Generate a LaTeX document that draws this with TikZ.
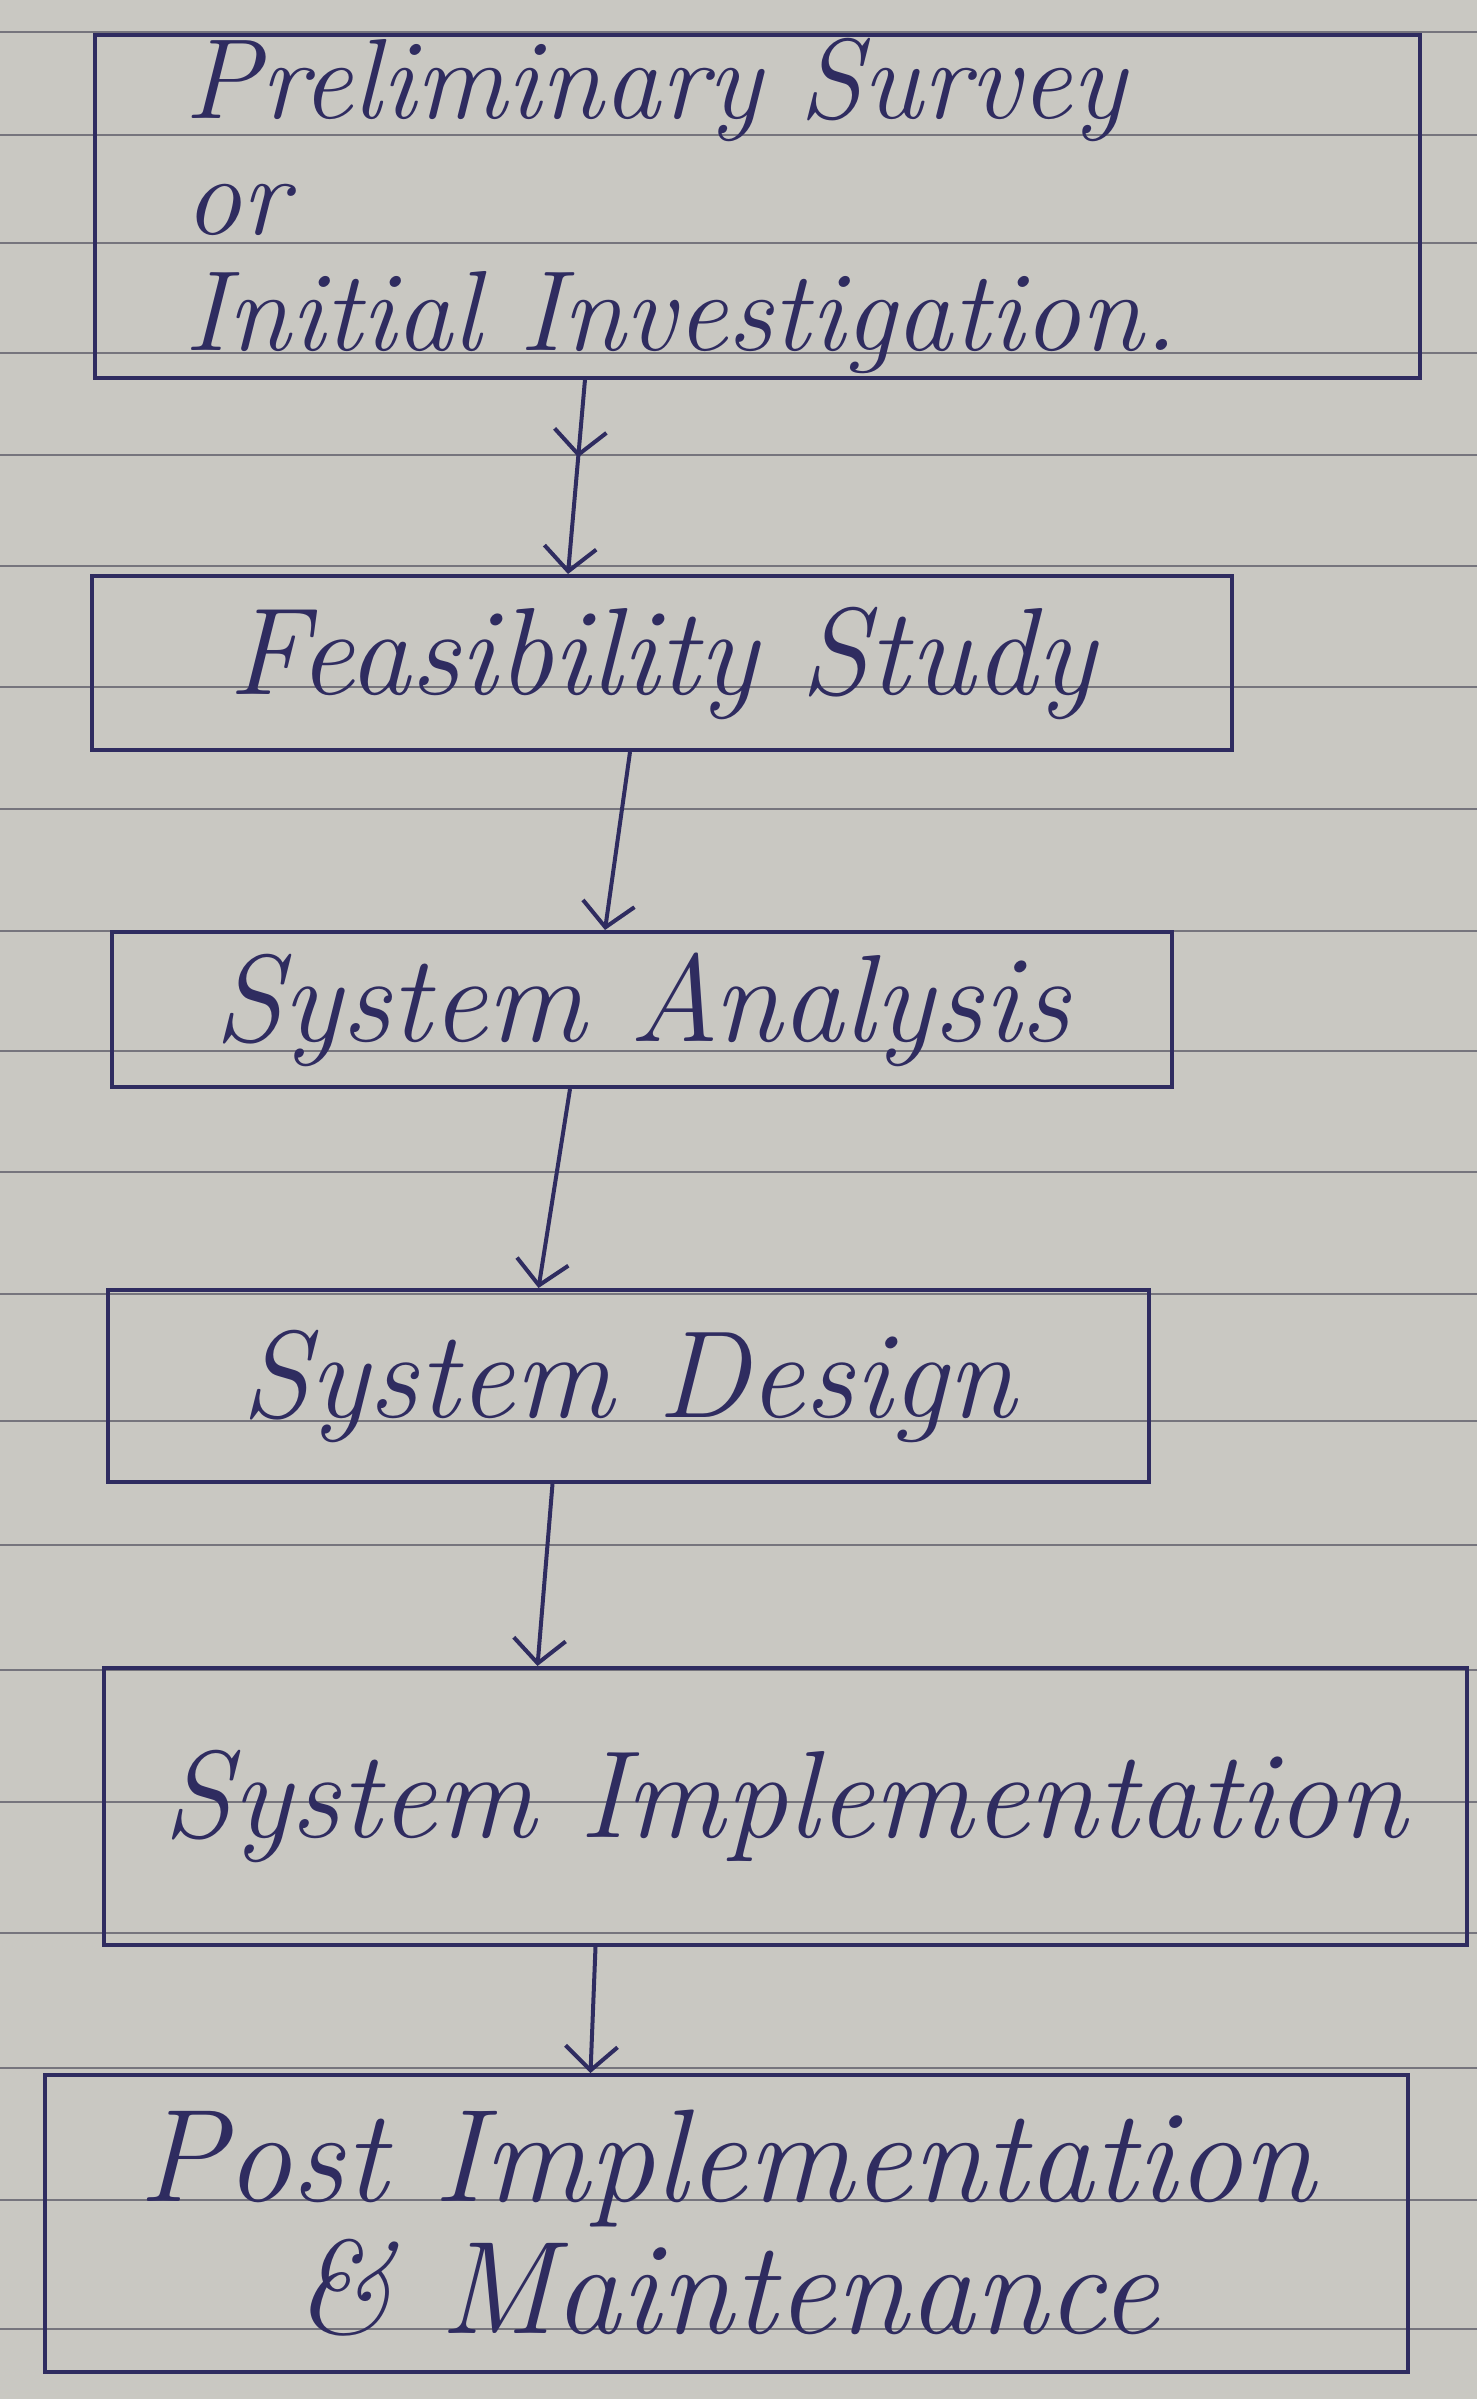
\documentclass[tikz,border=0pt]{standalone}
\usepackage{fontspec}
\usetikzlibrary{arrows.meta,decorations.markings}
\definecolor{paper}{HTML}{C9C8C2}
\definecolor{rule}{HTML}{76757D}
\definecolor{ink}{HTML}{2F2C60}
\tikzset{
  box/.style={draw=ink, line width=2pt, rectangle, inner sep=0pt, text=ink,
    font=\itshape\fontsize{62}{54}\selectfont},
  flow/.style={draw=ink, line width=2pt, -{Straight Barb[length=12pt,width=26pt,line width=2pt]}},
  ruled/.style={draw=rule, line width=1.3pt}
}
\begin{document}
\begin{tikzpicture}[x=0.5pt,y=-0.5pt]
\fill[paper] (0,0) rectangle (1477,2399);
\useasboundingbox (0,0) rectangle (1477,2399);
\foreach \yy in {32,135,243,353,455,566,687,809,931,1051,1172,1294,1421,1545,1670,1802,1933,2068,2200,2329}
  \draw[ruled] (0,\yy) -- (1477,\yy);

\node[box, minimum width=662.5pt, minimum height=171.5pt, inner xsep=45pt,
  text width=572.5pt, align=left, font=\itshape\fontsize{57}{58}\selectfont] (b1) at (757,206)
  {Preliminary Survey\\or\\Initial Investigation.};
\node[box, minimum width=570pt, minimum height=87pt] (b2) at (662,663) {Feasibility Study};
\node[box, minimum width=530pt, minimum height=77.5pt] (b3) at (642,1009.5) {System Analysis};
\node[box, minimum width=520.5pt, minimum height=96pt] (b4) at (628.5,1386) {System Design};
\node[box, minimum width=681.5pt, minimum height=138.5pt] (b5) at (785.5,1806.5) {System Implementation};
\node[box, minimum width=681.5pt, minimum height=148.5pt, align=center,
  font=\itshape\fontsize{66}{66}\selectfont] (b6) at (726.5,2223.5)
  {Post Implementation\\\& Maintenance};

\draw[flow, postaction={decorate}, decoration={markings, mark=at position 0.4 with
  {\arrow{Straight Barb[length=12pt,width=26pt,line width=2pt]}}}]
  ([xshift=-86pt]b1.south) -- ([xshift=-47pt]b2.north);
\draw[flow] ([xshift=-16pt]b2.south) -- ([xshift=-18.5pt]b3.north);
\draw[flow] ([xshift=-36pt]b3.south) -- ([xshift=-45pt]b4.north);
\draw[flow] ([xshift=-38pt]b4.south) -- ([xshift=-124pt]b5.north);
\draw[flow] ([xshift=-95pt]b5.south) -- ([xshift=-68pt]b6.north);
\end{tikzpicture}
\end{document}
